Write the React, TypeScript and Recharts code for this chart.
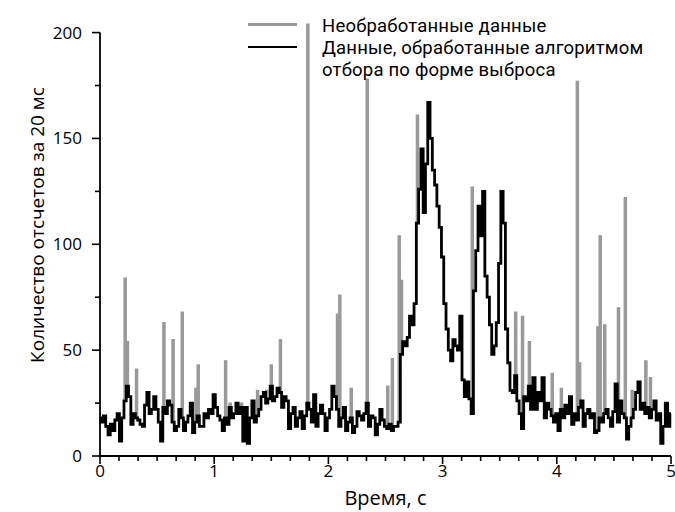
import React from "react";
import { ComposedChart, Area, Line, XAxis, YAxis, ReferenceLine } from "recharts";

// ─── Data ────────────────────────────────────────────────
// sample period, s (20 ms bins)
const STEP = 0.02;

// processed counts, one value per 20 ms bin, 0.0 … 5.0 s
const processed: number[] = [
  18, 16, 19, 14, 10, 15, 12, 17, 20, 7,
  18, 26, 33, 28, 15, 20, 18, 17, 15, 14,
  24, 30, 20, 22, 28, 22, 16, 7, 23, 20,
  26, 24, 16, 12, 14, 22, 18, 12, 16, 19,
  25, 11, 16, 19, 14, 14, 20, 18, 22, 20,
  29, 23, 19, 17, 12, 18, 15, 23, 18, 20,
  25, 20, 23, 7, 23, 6, 18, 26, 16, 19,
  22, 28, 30, 25, 27, 33, 26, 28, 32, 30,
  23, 28, 26, 13, 20, 23, 14, 18, 21, 13,
  19, 25, 22, 16, 29, 14, 20, 24, 20, 12,
  18, 22, 33, 28, 22, 14, 18, 23, 12, 16,
  18, 11, 14, 21, 19, 17, 20, 25, 14, 19,
  18, 10, 15, 22, 17, 14, 13, 15, 12, 14,
  14, 16, 48, 54, 52, 56, 66, 62, 72, 110,
  126, 145, 115, 138, 167, 150, 135, 128, 118, 108,
  94, 72, 60, 50, 45, 55, 52, 50, 66, 36,
  28, 35, 27, 20, 78, 97, 118, 104, 125, 85,
  75, 62, 48, 52, 63, 91, 125, 110, 60, 44,
  31, 30, 38, 26, 20, 13, 28, 26, 33, 22,
  37, 22, 30, 26, 37, 18, 25, 22, 19, 16,
  20, 12, 22, 18, 24, 20, 28, 15, 20, 17,
  23, 26, 14, 20, 22, 18, 20, 11, 12, 18,
  16, 20, 22, 18, 14, 21, 34, 16, 26, 20,
  18, 8, 14, 18, 22, 30, 35, 22, 25, 20,
  23, 18, 22, 26, 17, 20, 6, 14, 25, 14,
  20,
];

// raw data = processed + the outliers the algorithm removed: [time s, count]
const rawSpikes: [number, number][] = [
  [0.22, 84], [0.24, 54], [0.32, 41], [0.56, 63], [0.64, 55], [0.72, 68],
  [0.84, 32], [0.86, 43], [1.1, 45], [1.14, 25], [1.24, 25], [1.38, 31],
  [1.46, 31], [1.5, 43], [1.58, 55], [1.82, 204], [2.08, 67], [2.1, 76],
  [2.2, 32], [2.34, 178], [2.52, 33], [2.56, 46], [2.62, 104], [2.64, 83],
  [2.78, 161], [3.26, 127], [3.64, 68], [3.7, 66], [3.76, 54], [3.96, 39],
  [4.04, 32], [4.18, 177], [4.2, 44], [4.36, 61], [4.38, 104], [4.42, 62],
  [4.54, 70], [4.6, 122], [4.66, 31], [4.68, 27], [4.78, 45], [4.82, 37],
];

const xMajor = [0, 1, 2, 3, 4, 5];
const yMajor = [0, 50, 100, 150, 200];
const xTicks = Array.from({ length: 31 }, (_, k) => k / 6);
const yTicks = [0, 25, 50, 75, 100, 125, 150, 175, 200];

const rows = processed.map((v, i) => ({
  t: +(i * STEP).toFixed(2),
  raw: v,
  clean: v,
}));
rawSpikes.forEach(([t, v]) => {
  rows[Math.round(t / STEP)].raw = v;
});

const FONT = "'Open Sans', sans-serif";
const LEGEND_FONT = "Roboto, sans-serif";
const GRAY = "#999999";

// ─── Ticks ───────────────────────────────────────────────
function XTick({ x, y, payload }: any) {
  const major = xMajor.some((m) => Math.abs(m - payload.value) < 1e-6);
  return (
    <g>
      <line x1={x} y1={y} x2={x} y2={y + (major ? 8 : 5)} stroke="#000" strokeWidth={1.6} />
      {major && (
        <text x={x} y={y + 21} textAnchor="middle" fontSize={17} fontFamily={FONT} fill="#000">
          {Math.round(payload.value)}
        </text>
      )}
    </g>
  );
}

function YTick({ x, y, payload }: any) {
  const major = yMajor.includes(payload.value);
  return (
    <g>
      <line x1={x - (major ? 8 : 5)} y1={y} x2={x} y2={y} stroke="#000" strokeWidth={1.6} />
      {major && (
        <text x={x - 18} y={y + 6} textAnchor="end" fontSize={17} fontFamily={FONT} fill="#000">
          {payload.value}
        </text>
      )}
    </g>
  );
}

// ─── Component ───────────────────────────────────────────
export default function App() {
  return (
    <div style={{ position: "absolute", left: 0, top: 0, width: 675, height: 512, background: "#fff" }}>
      <ComposedChart
        width={675}
        height={512}
        data={rows}
        margin={{ top: 22, right: 4, bottom: 16, left: 0 }}
      >
        <XAxis
          dataKey="t"
          type="number"
          domain={[0, 5]}
          ticks={xTicks}
          interval={0}
          tick={<XTick />}
          tickLine={false}
          tickSize={0}
          tickMargin={0}
          height={40}
          axisLine={{ stroke: "#000", strokeWidth: 1.8 }}
          label={{
            content: ({ viewBox }: any) => (
              <text
                x={viewBox.x + viewBox.width / 2}
                y={viewBox.y + 49}
                textAnchor="middle"
                fontSize={20}
                fontFamily={FONT}
                fill="#000"
              >
                Время, с
              </text>
            ),
          }}
        />
        <YAxis
          type="number"
          domain={[0, 205]}
          ticks={yTicks}
          interval={0}
          tick={<YTick />}
          tickLine={false}
          tickSize={0}
          tickMargin={0}
          width={100}
          axisLine={false}
          label={{
            content: ({ viewBox }: any) => {
              const cx = viewBox.x + 37;
              const cy = viewBox.y + viewBox.height / 2 - 14;
              return (
                <text
                  x={cx}
                  y={cy}
                  transform={`rotate(-90 ${cx} ${cy})`}
                  textAnchor="middle"
                  dominantBaseline="central"
                  fontSize={19}
                  fontFamily={FONT}
                  fill="#000"
                >
                  Количество отсчетов за 20 мс
                </text>
              );
            },
          }}
        />
        {/* raw data: drawn as the band between processed and raw counts */}
        <Area
          type="step"
          dataKey={(d: any) => [d.clean, d.raw]}
          stroke={GRAY}
          strokeWidth={1.2}
          fill={GRAY}
          fillOpacity={1}
          dot={false}
          activeDot={false}
          isAnimationActive={false}
        />
        <Line
          type="step"
          dataKey="clean"
          stroke="#000"
          strokeWidth={2.8}
          dot={false}
          activeDot={false}
          isAnimationActive={false}
        />
        <ReferenceLine
          segment={[{ x: 0, y: 0 }, { x: 0, y: 200 }]}
          stroke="#000"
          strokeWidth={1.8}
        />
      </ComposedChart>

      {/* Legend */}
      <div style={{ position: "absolute", left: 248, top: 23, width: 49, height: 2.5, background: GRAY }} />
      <div style={{ position: "absolute", left: 248, top: 45.5, width: 49, height: 2.5, background: "#000" }} />
      <div
        style={{
          position: "absolute",
          left: 322,
          top: 14.7,
          fontFamily: LEGEND_FONT,
          fontSize: 18.5,
          lineHeight: "22px",
          letterSpacing: 0.2,
          color: "#000",
          whiteSpace: "nowrap",
        }}
      >
        <div>Необработанные данные</div>
        <div>Данные, обработанные алгоритмом</div>
        <div>отбора по форме выброса</div>
      </div>
    </div>
  );
}
